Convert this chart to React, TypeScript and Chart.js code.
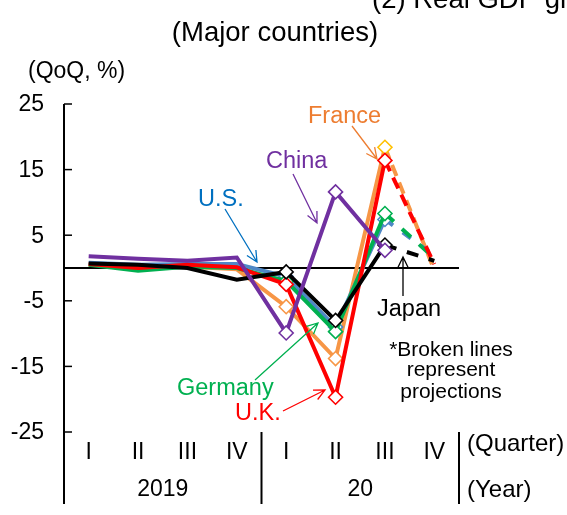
import React, { useEffect, useRef } from "react";
import { Chart, registerables } from "chart.js";
Chart.register(...registerables);

// ---- data ----
const quarters = ["I", "II", "III", "IV", "I", "II", "III", "IV"];
const years = ["2019", "20"];
const yTicks = [25, 15, 5, -5, -15, -25];

const usData = [0.8, 0.5, 0.6, 0.6, -1.3, -9.0, 7.4, 1.9];
const japanData = [0.7, 0.5, 0.0, -1.8, -0.6, -8.0, 3.5, 1.1];
const germanyData = [0.5, -0.4, 0.2, 0.0, -2.0, -9.7, 8.3, 1.5];
const franceData = [0.5, 0.3, 0.2, -0.2, -5.9, -13.8, 18.4, -0.3];
const ukData = [0.6, 0.0, 0.5, 0.1, -2.5, -19.7, 16.4, 0.6];
const chinaData = [1.8, 1.4, 1.1, 1.6, -9.9, 11.6, 2.7, null];

const FONT = '"Liberation Sans", Arial, sans-serif';

function arrow(ctx: CanvasRenderingContext2D, x1: number, y1: number, x2: number, y2: number, color: string) {
  ctx.save();
  ctx.strokeStyle = color;
  ctx.lineWidth = 1.3;
  ctx.beginPath();
  ctx.moveTo(x1, y1);
  ctx.lineTo(x2, y2);
  const a = Math.atan2(y2 - y1, x2 - x1);
  const L = 12;
  const s = 0.45;
  ctx.moveTo(x2 - L * Math.cos(a - s), y2 - L * Math.sin(a - s));
  ctx.lineTo(x2, y2);
  ctx.lineTo(x2 - L * Math.cos(a + s), y2 - L * Math.sin(a + s));
  ctx.stroke();
  ctx.restore();
}

const decor = {
  id: "decor",
  beforeDatasetsDraw(chart: any) {
    const ctx: CanvasRenderingContext2D = chart.ctx;
    const { left, right, top, bottom } = chart.chartArea;
    const x = chart.scales.x;
    const y = chart.scales.y;
    ctx.save();
    ctx.strokeStyle = "#000";
    ctx.lineWidth = 2;
    ctx.beginPath();
    ctx.moveTo(left, top);
    ctx.lineTo(left, bottom + 72);
    ctx.stroke();
    ctx.lineWidth = 1.5;
    ctx.fillStyle = "#000";
    ctx.font = `23px ${FONT}`;
    ctx.textAlign = "right";
    ctx.textBaseline = "middle";
    yTicks.forEach((t) => {
      const py = y.getPixelForValue(t);
      ctx.beginPath();
      ctx.moveTo(left, py);
      ctx.lineTo(left + 8, py);
      ctx.stroke();
      ctx.fillText(String(t), left - 20, py + 1);
    });
    ctx.lineWidth = 2;
    const z = y.getPixelForValue(0);
    ctx.beginPath();
    ctx.moveTo(left, z);
    ctx.lineTo(right, z);
    ctx.stroke();
    const sepX = [(x.getPixelForValue(3) + x.getPixelForValue(4)) / 2, right];
    sepX.forEach((sx) => {
      ctx.beginPath();
      ctx.moveTo(sx, bottom);
      ctx.lineTo(sx, bottom + 72);
      ctx.stroke();
    });
    ctx.textAlign = "center";
    ctx.textBaseline = "middle";
    quarters.forEach((q, i) => {
      ctx.fillText(q, x.getPixelForValue(i), bottom + 21);
    });
    ctx.fillText(years[0], (x.getPixelForValue(0) + x.getPixelForValue(3)) / 2, bottom + 58);
    ctx.fillText(years[1], (x.getPixelForValue(4) + x.getPixelForValue(7)) / 2, bottom + 58);
    ctx.textAlign = "left";
    ctx.font = `24px ${FONT}`;
    ctx.fillText("(Quarter)", right + 8, bottom + 12);
    ctx.fillText("(Year)", right + 8, bottom + 58);
    ctx.restore();
  },
  afterDraw(chart: any) {
    const ctx: CanvasRenderingContext2D = chart.ctx;
    ctx.save();
    ctx.fillStyle = "#000";
    ctx.textBaseline = "alphabetic";
    ctx.font = `27.5px ${FONT}`;
    ctx.textAlign = "left";
    ctx.fillText("(2) Real GDP growth", 372, 8);
    ctx.textAlign = "center";
    ctx.fillText("(Major countries)", 275, 41);
    ctx.textAlign = "left";
    ctx.font = `23px ${FONT}`;
    ctx.fillText("(QoQ, %)", 28, 78);

    const lab = (t: string, x: number, y: number, c: string, align: CanvasTextAlign = "left") => {
      ctx.fillStyle = c;
      ctx.textAlign = align;
      ctx.fillText(t, x, y);
    };
    ctx.font = `23.5px ${FONT}`;
    lab("France", 308, 123, "#ED7D31");
    arrow(ctx, 352, 126, 377, 159, "#ED7D31");
    lab("China", 266, 168, "#7030A0");
    arrow(ctx, 293, 174, 317, 223, "#7030A0");
    lab("U.S.", 198, 206, "#0070C0");
    arrow(ctx, 225, 209, 257, 262, "#0070C0");
    lab("Japan", 377, 316, "#000");
    arrow(ctx, 403, 296, 403, 257, "#000");
    lab("Germany", 177, 395, "#00B050");
    arrow(ctx, 255, 380, 318, 323, "#00B050");
    lab("U.K.", 235, 420, "#FF0000");
    arrow(ctx, 283, 411, 325, 390, "#FF0000");
    ctx.font = `21px ${FONT}`;
    lab("*Broken lines", 451, 356, "#000", "center");
    lab("represent", 451, 376, "#000", "center");
    lab("projections", 451, 398, "#000", "center");
    ctx.restore();
  },
};

function series(label: string, data: (number | null)[], color: string, order: number, dash: number[], pointColors?: string[]) {
  return {
    label,
    data,
    borderColor: color,
    backgroundColor: color,
    borderWidth: 4,
    tension: 0,
    order,
    spanGaps: false,
    pointStyle: "rectRot",
    pointRadius: (c: any) => (c.dataIndex >= 4 && c.dataIndex <= 6 ? 7 : 0),
    pointBackgroundColor: "#fff",
    pointBorderColor: pointColors || color,
    pointBorderWidth: 1.6,
    borderCapStyle: "butt",
    segment: {
      borderDash: (c: any) => (c.p1DataIndex === 7 ? dash : undefined),
    },
  };
}

export default function App() {
  const ref = useRef<HTMLCanvasElement>(null);
  useEffect(() => {
    if (!ref.current) return;
    const chart = new Chart(ref.current, {
      type: "line",
      data: {
        labels: quarters.map((q, i) => `${q}-${i}`),
        datasets: [
          series("China", chinaData, "#7030A0", 0, [12, 8]),
          series("Japan", japanData, "#000000", 1, [12, 11]),
          series("U.K.", ukData, "#FF0000", 2, [12, 7]),
          series("Germany", germanyData, "#00B050", 3, [12, 11]),
          series("U.S.", usData, "#4F88C6", 4, [10, 12]),
          series("France", franceData, "#F79646", 5, [12, 7], [
            "#F79646", "#F79646", "#F79646", "#F79646", "#F79646", "#F79646", "#FFC000", "#F79646",
          ]),
        ] as any,
      },
      options: {
        responsive: false,
        maintainAspectRatio: false,
        animation: false,
        layout: { padding: { left: 64, right: 108, top: 104, bottom: 83 } },
        scales: {
          x: { type: "category", offset: true, display: false },
          y: { min: -25, max: 25, display: false },
        },
        plugins: { legend: { display: false }, tooltip: { enabled: false }, title: { display: false } },
      },
      plugins: [decor],
    });
    return () => chart.destroy();
  }, []);
  return (
    <div style={{ position: "fixed", left: 0, top: 0, width: 567, height: 515, background: "#fff" }}>
      <canvas ref={ref} width={567} height={515} style={{ display: "block" }} />
    </div>
  );
}
